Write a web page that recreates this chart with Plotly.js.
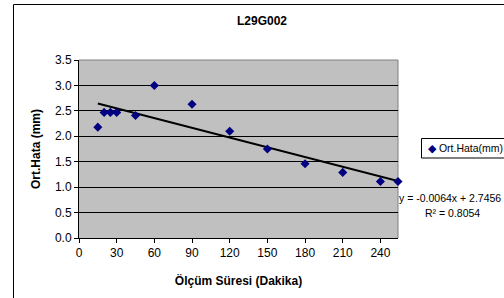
<!DOCTYPE html>
<html><head><meta charset="utf-8">
<script src="https://cdn.plot.ly/plotly-3.0.1.min.js"></script>
<style>html,body{margin:0;padding:0;background:#fff;overflow:hidden}#chart{width:504px;height:298px}</style>
</head><body><div id="chart"></div>
<script>
const chartTitle = "L29G002";
const xTitle = "Ölçüm Süresi (Dakika)";
const yTitle = "Ort.Hata (mm)";
const seriesName = "Ort.Hata(mm)";
const minutes = [15, 20, 25, 30, 45, 60, 90, 120, 150, 180, 210, 240, 254];
const meanError = [2.18, 2.47, 2.47, 2.47, 2.41, 3.00, 2.63, 2.10, 1.75, 1.46, 1.29, 1.11, 1.11];
const xTickVals = [0, 30, 60, 90, 120, 150, 180, 210, 240];
const yTickVals = [0, 0.5, 1.0, 1.5, 2.0, 2.5, 3.0, 3.5];
const equationText = "y = -0.0064x + 2.7456";
const r2Text = "R² = 0.8054";

// least-squares linear trendline from the data
const n = minutes.length;
const mx = minutes.reduce((a, b) => a + b, 0) / n;
const my = meanError.reduce((a, b) => a + b, 0) / n;
let sxy = 0, sxx = 0;
for (let i = 0; i < n; i++) { sxy += (minutes[i] - mx) * (meanError[i] - my); sxx += (minutes[i] - mx) ** 2; }
const slope = sxy / sxx, intercept = my - slope * mx;
const trendX = [Math.min(...minutes), Math.max(...minutes)];
const trendY = trendX.map(x => slope * x + intercept);

const FONT = "Liberation Sans, Arial, sans-serif";

const traces = [
  {x: trendX, y: trendY, mode: "lines", line: {color: "#000", width: 2}, showlegend: false, hoverinfo: "skip", cliponaxis: false},
  {x: minutes, y: meanError, mode: "markers", name: seriesName, cliponaxis: false,
   marker: {symbol: "diamond", size: 7, color: "#000080", line: {width: 0}}}
];

const layout = {
  width: 504, height: 298,
  margin: {l: 79, r: 106, t: 60, b: 60},
  paper_bgcolor: "#fff", plot_bgcolor: "#C0C0C0",
  showlegend: false,
  font: {family: FONT, color: "#000", size: 12},
  title: {text: "<b>" + chartTitle + "</b>", font: {family: FONT, size: 12, color: "#000"},
          x: 262 / 504, xanchor: "center", xref: "container", y: 1 - 20.7 / 298, yref: "container", yanchor: "middle"},
  xaxis: {range: [0, 254], tickvals: xTickVals, ticktext: xTickVals.map(String),
          ticks: "outside", ticklen: 4, tickcolor: "#000", showline: true, linecolor: "#000", linewidth: 1,
          showgrid: false, zeroline: false, tickfont: {family: FONT, size: 12},
          title: {text: "<b>" + xTitle + "</b>", font: {family: FONT, size: 12}, standoff: 17}},
  yaxis: {range: [0, 3.5], tickvals: yTickVals, ticktext: yTickVals.map(v => v.toFixed(1)),
          ticks: "outside", ticklen: 4, tickcolor: "#000", showline: true, linecolor: "#000", linewidth: 1,
          showgrid: true, gridcolor: "#000", gridwidth: 1, zeroline: false, tickfont: {family: FONT, size: 12},
          title: {text: "<b>" + yTitle + "</b>", font: {family: FONT, size: 12}, standoff: 11}},
  shapes: [
    {type: "line", xref: "paper", yref: "paper", x0: 0, x1: 1, y0: 1, y1: 1, line: {color: "#808080", width: 1}, layer: "between"},
    {type: "line", xref: "paper", yref: "paper", x0: 1, x1: 1, y0: 0, y1: 1, line: {color: "#808080", width: 1}, layer: "between"},
    {type: "rect", xref: "paper", yref: "paper", x0: (13.5 - 79) / 319, x1: 1.5, y0: -0.5, y1: (238 - 4.5) / 178,
     line: {color: "#000", width: 1}, fillcolor: "rgba(0,0,0,0)", layer: "below"},
    {type: "rect", xref: "paper", yref: "paper", x0: (421.5 - 79) / 319, x1: 1.4, y0: (238 - 158) / 178, y1: (238 - 138.5) / 178,
     line: {color: "#000", width: 1}, fillcolor: "#fff"}
  ],
  annotations: [
    {xref: "paper", yref: "paper", x: (426 - 79) / 319, y: (238 - 148.3) / 178, xanchor: "left", yanchor: "middle",
     text: "<span style='color:#000080'>◆</span> " + seriesName, showarrow: false, font: {family: FONT, size: 10.5, color: "#000"}},
    {xref: "paper", yref: "paper", x: (397 - 79) / 319, y: (238 - 198) / 178, xanchor: "left", yanchor: "middle",
     text: equationText, showarrow: false, font: {family: FONT, size: 10.5, color: "#000"}},
    {xref: "paper", yref: "paper", x: (453 - 79) / 319, y: (238 - 213) / 178, xanchor: "center", yanchor: "middle",
     text: r2Text, showarrow: false, font: {family: FONT, size: 10.5, color: "#000"}}
  ]
};

Plotly.newPlot("chart", traces, layout, {staticPlot: true, displayModeBar: false});
</script>
</body></html>
